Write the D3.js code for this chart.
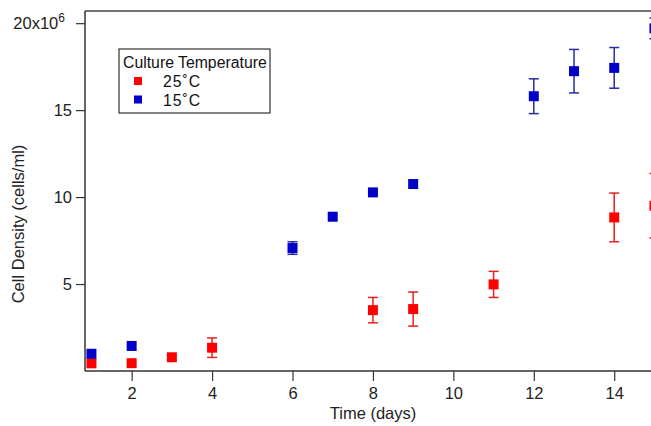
<!DOCTYPE html>
<html>
<head>
<meta charset="utf-8">
<script src="https://cdn.jsdelivr.net/npm/d3@7"></script>
<style>
  body { margin: 0; background: #fff; }
  svg { display: block; font-family: "Liberation Sans", Arial, sans-serif; }
</style>
</head>
<body>
<div id="chart"></div>
<script>
const width = 651;
const height = 426;

// data: day, cell density (x10^6 cells/ml), error (x10^6)
const days25 = [1, 2, 3, 4, 8, 9, 11, 14, 15];
const density25 = [0.44, 0.45, 0.79, 1.34, 3.5, 3.56, 4.98, 8.83, 9.5];
const err25 = [0, 0, 0, 0.56, 0.73, 0.98, 0.75, 1.4, 1.85];

const days15 = [1, 2, 6, 7, 8, 9, 12, 13, 14, 15];
const density15 = [0.99, 1.44, 7.07, 8.87, 10.27, 10.75, 15.8, 17.24, 17.43, 19.7];
const err15 = [0, 0, 0.36, 0, 0, 0, 1.0, 1.25, 1.17, 0.6];

const xTicks = [2, 4, 6, 8, 10, 12, 14];
const yTicks = [5, 10, 15, 20];

const series = [
  {name: "25˚C", color: "#ff0000", bar: "#e82020", days: days25, vals: density25, errs: err25},
  {name: "15˚C", color: "#0000c8", bar: "#2a2aa8", days: days15, vals: density15, errs: err15}
];

const plotLeft = 85, plotTop = 11, plotBottom = 371;

const x = d3.scaleLinear().domain([0.84, 15.5]).range([plotLeft, plotLeft + 14.66 * 40.215]);
const y = d3.scaleLinear().domain([0, 20.7]).range([plotBottom, plotTop]);

const svg = d3.select("#chart").append("svg")
  .attr("width", width)
  .attr("height", height);

// frame line on top
svg.append("line")
  .attr("x1", plotLeft).attr("x2", width)
  .attr("y1", plotTop).attr("y2", plotTop)
  .attr("stroke", "#444").attr("stroke-width", 1.5);

// axes
const yAxis = svg.append("g")
  .attr("transform", `translate(${plotLeft},0)`)
  .call(d3.axisLeft(y).tickValues(yTicks).tickSize(9).tickPadding(4).tickFormat(d => d === 20 ? "20x10" : d));
yAxis.select(".domain").attr("stroke", "#333").attr("stroke-width", 1.5)
  .attr("d", `M0,${plotTop}V${plotBottom}`);
yAxis.selectAll(".tick line").attr("stroke", "#333").attr("stroke-width", 1.2);
yAxis.selectAll(".tick text")
  .attr("font-size", 16.5).attr("fill", "#222")
  .attr("font-family", "Liberation Sans, Arial, sans-serif");
yAxis.selectAll(".tick").filter(d => d === 20).select("text")
  .attr("dx", "-7")
  .append("tspan").attr("dy", "-7").attr("font-size", 12).text("6");

const xAxis = svg.append("g")
  .attr("transform", `translate(0,${plotBottom})`)
  .call(d3.axisBottom(x).tickValues(xTicks).tickSize(10).tickPadding(6));
xAxis.select(".domain").attr("stroke", "#333").attr("stroke-width", 1.5)
  .attr("d", `M${plotLeft},0H${width}`);
xAxis.selectAll(".tick line").attr("stroke", "#333").attr("stroke-width", 1.2);
xAxis.selectAll(".tick text")
  .attr("font-size", 16.5).attr("fill", "#222")
  .attr("font-family", "Liberation Sans, Arial, sans-serif");

// axis titles
svg.append("text")
  .attr("x", 373).attr("y", 419)
  .attr("text-anchor", "middle")
  .attr("font-size", 16.5).attr("fill", "#222")
  .text("Time (days)");

svg.append("text")
  .attr("transform", "translate(24,224) rotate(-90)")
  .attr("text-anchor", "middle")
  .attr("font-size", 16.5).attr("fill", "#222")
  .text("Cell Density (cells/ml)");

// data
const cap = 5;
series.forEach(s => {
  const pts = s.days.map((d, i) => ({d, v: s.vals[i], e: s.errs[i]}));
  const g = svg.append("g");
  const eb = g.selectAll(".err").data(pts.filter(p => p.e > 0)).join("g")
    .attr("stroke", s.bar).attr("stroke-width", 1.5);
  eb.append("line")
    .attr("x1", p => x(p.d)).attr("x2", p => x(p.d))
    .attr("y1", p => y(p.v - p.e)).attr("y2", p => y(p.v + p.e));
  eb.append("line")
    .attr("x1", p => x(p.d) - cap).attr("x2", p => x(p.d) + cap)
    .attr("y1", p => y(p.v + p.e)).attr("y2", p => y(p.v + p.e));
  eb.append("line")
    .attr("x1", p => x(p.d) - cap).attr("x2", p => x(p.d) + cap)
    .attr("y1", p => y(p.v - p.e)).attr("y2", p => y(p.v - p.e));
  g.selectAll("rect").data(pts).join("rect")
    .attr("x", p => x(p.d) - 5).attr("y", p => y(p.v) - 5)
    .attr("width", 10).attr("height", 10)
    .attr("fill", s.color);
});

// legend
const legend = svg.append("g").attr("transform", "translate(119,49)");
legend.append("rect")
  .attr("width", 151).attr("height", 64)
  .attr("fill", "#fff").attr("stroke", "#333").attr("stroke-width", 1.2);
legend.append("text")
  .attr("x", 4).attr("y", 19)
  .attr("font-size", 15.8).attr("fill", "#111")
  .text("Culture Temperature");
series.forEach((s, i) => {
  legend.append("rect")
    .attr("x", 15).attr("y", 28 + i * 18.5)
    .attr("width", 8).attr("height", 8)
    .attr("fill", s.color);
  legend.append("text")
    .attr("x", 44).attr("y", 38 + i * 18.5)
    .attr("font-size", 15.8).attr("fill", "#111")
    .attr("letter-spacing", 1)
    .text(s.name);
});
</script>
</body>
</html>
